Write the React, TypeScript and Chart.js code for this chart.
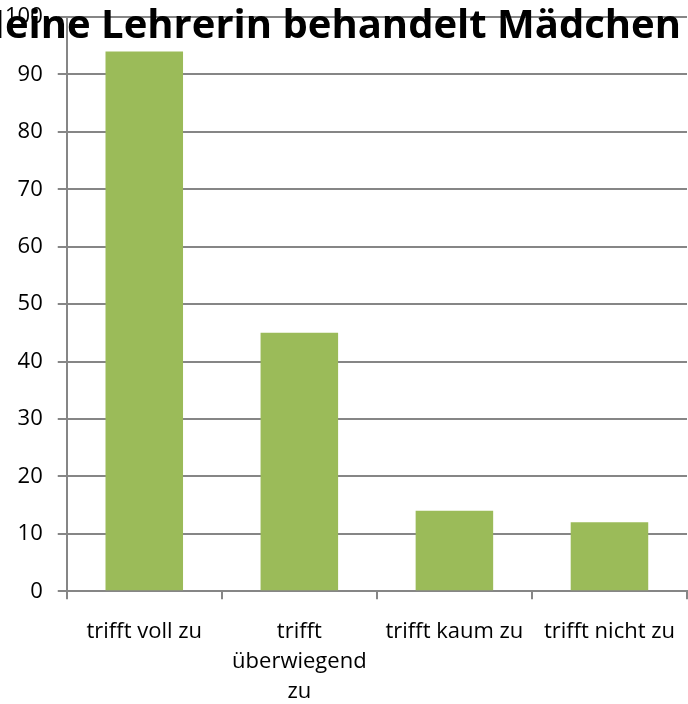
import React, { useEffect, useRef } from "react";
import { Chart, registerables } from "chart.js";

Chart.register(...registerables);

const categories: (string | string[])[] = [
  "trifft voll zu",
  ["trifft", "überwiegend", "zu"],
  "trifft kaum zu",
  "trifft nicht zu",
];
const values: number[] = [94, 45, 14, 12];
const titleText = "Meine Lehrerin behandelt Mädchen";

const titlePlugin = {
  id: "clippedTitle",
  afterDraw(chart: any) {
    const ctx = chart.ctx;
    ctx.save();
    ctx.font = "bold 40px 'Open Sans'";
    ctx.fillStyle = "#000000";
    ctx.textAlign = "right";
    ctx.textBaseline = "alphabetic";
    ctx.fillText(titleText, chart.width - 7, 38);
    ctx.restore();
  },
};

export default function App() {
  const ref = useRef<HTMLCanvasElement | null>(null);
  useEffect(() => {
    document.body.style.margin = "0";
    if (!ref.current) return;
    const chart = new Chart(ref.current, {
      type: "bar",
      data: {
        labels: categories as any,
        datasets: [
          {
            data: values,
            backgroundColor: "#9BBB59",
            borderWidth: 0,
            categoryPercentage: 1,
            barPercentage: 0.5,
          },
        ],
      },
      options: {
        animation: false,
        responsive: false,
        layout: { padding: { top: 17, right: 1, left: -10, bottom: -21 } },
        plugins: { legend: { display: false }, title: { display: false }, tooltip: { enabled: false } },
        scales: {
          x: {
            afterFit: (s: any) => {
              s.paddingRight = 0;
            },
            grid: {
              offset: true,
              drawOnChartArea: false,
              drawTicks: true,
              tickLength: 8,
              color: "#868686",
              lineWidth: 2,
            },
            border: { color: "#868686", width: 2 },
            ticks: {
              color: "#000000",
              font: { family: "'Open Sans'", size: 22, lineHeight: 1.36 },
              maxRotation: 0,
              autoSkip: false,
              padding: 18,
            },
          },
          y: {
            min: 0,
            max: 100,
            afterFit: (s: any) => {
              s.paddingTop = 0;
              s.paddingBottom = 0;
            },
            ticks: {
              stepSize: 10,
              color: "#000000",
              font: { family: "'Open Sans'", size: 22 },
              padding: 15,
            },
            grid: { color: "#868686", lineWidth: 2, tickLength: 9 },
            border: { color: "#868686", width: 2 },
          },
        },
      },
      plugins: [titlePlugin],
    });
    return () => chart.destroy();
  }, []);
  return <canvas ref={ref} width={688} height={704} style={{ display: "block" }} />;
}
